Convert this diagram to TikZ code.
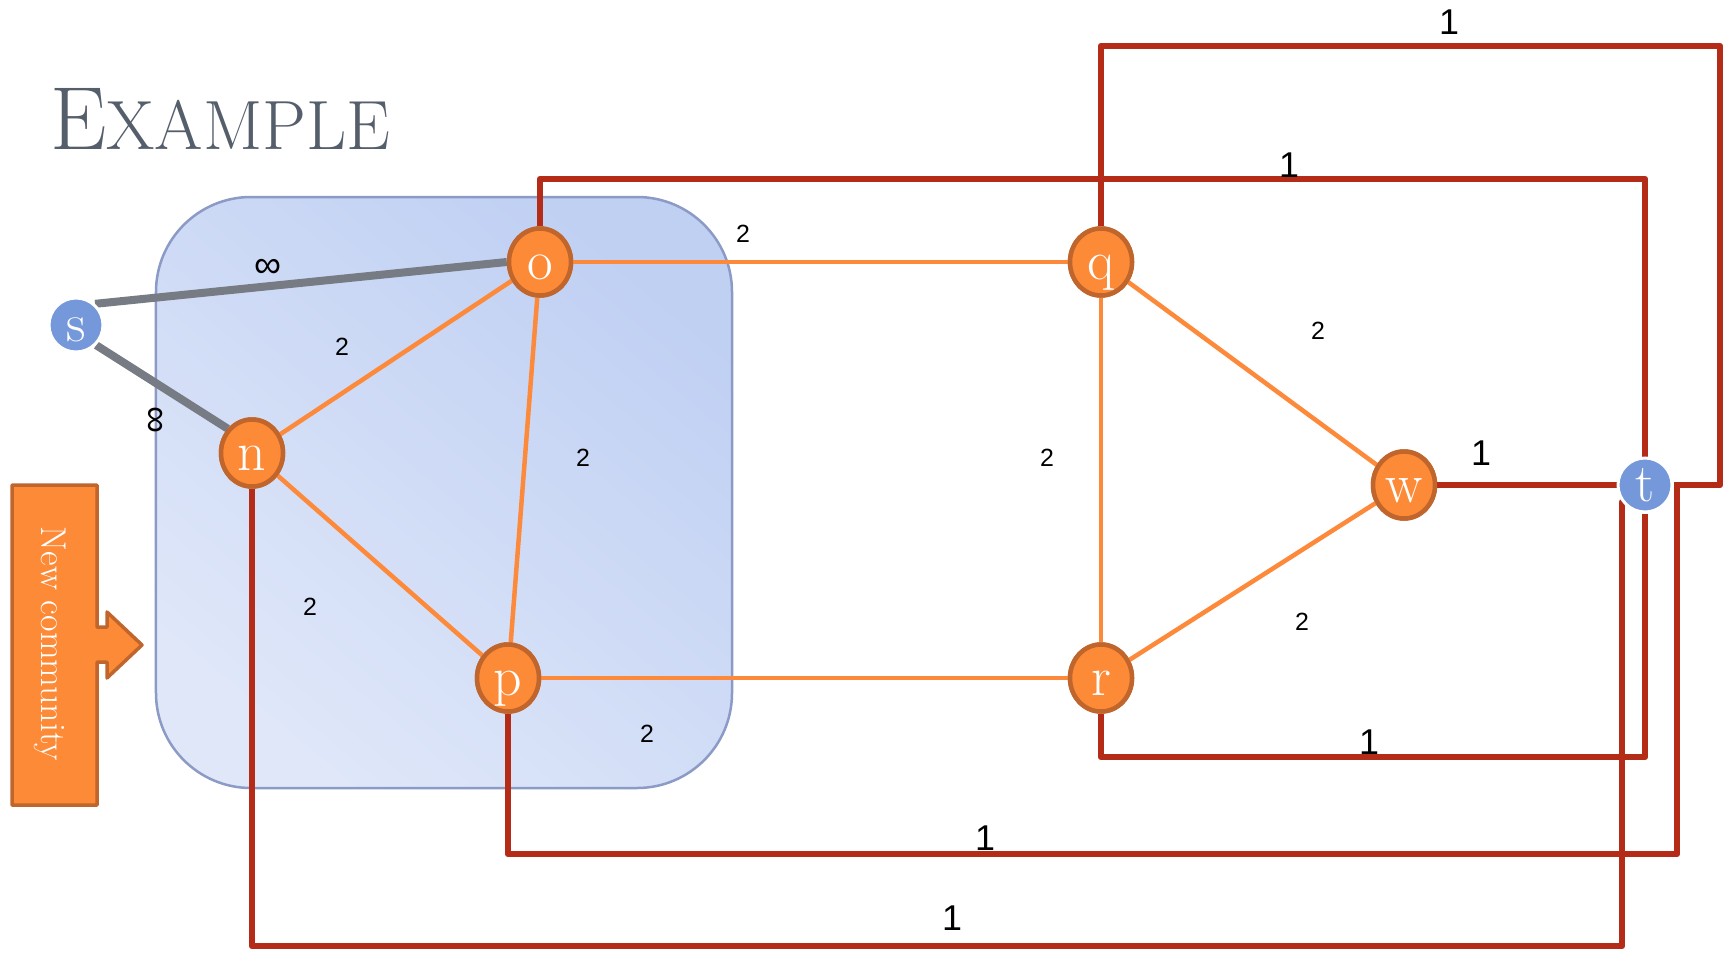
\documentclass[tikz,border=0pt]{standalone}
\usepackage{fontspec}
\usetikzlibrary{shapes.geometric,calc}
\newfontfamily\labfont{Liberation Sans}
\definecolor{nodeorange}{HTML}{FD8A37}
\definecolor{nodeedge}{HTML}{C0652B}
\definecolor{linkorange}{HTML}{FD8A3A}
\definecolor{cutred}{HTML}{B42B18}
\definecolor{infgray}{HTML}{777B83}
\definecolor{termblue}{HTML}{7598DA}
\definecolor{commborder}{HTML}{8C9BC5}
\definecolor{commdark}{HTML}{C0D0F3}
\definecolor{commlight}{HTML}{DFE7F9}
\definecolor{titlegray}{HTML}{555E6B}
\begin{document}
\begin{tikzpicture}[x=1bp,y=-1bp,
  vertex/.style={ellipse, fill=nodeorange, draw=nodeedge, line width=4.5bp,
    minimum width=62bp, minimum height=67bp, inner sep=0pt, text=white,
    font=\fontsize{56}{56}\selectfont, text height=34bp, text depth=0bp},
  terminal/.style={circle, fill=termblue, draw=white, line width=3bp,
    minimum size=54bp, inner sep=0pt, text=white,
    font=\fontsize{54}{54}\selectfont, text height=32bp, text depth=0bp},
  link/.style={linkorange, line width=4.5bp},
  inflink/.style={infgray, line width=8bp},
  cut/.style={cutred, line width=6.5bp, line join=round},
  wlabel/.style={font=\labfont\fontsize{25}{25}\selectfont, inner sep=0pt},
  inflabel/.style={font=\labfont\fontsize{38}{38}\selectfont, inner sep=0pt},
  cutlabel/.style={font=\labfont\fontsize{36}{36}\selectfont, inner sep=0pt},
]
\useasboundingbox (0,0) rectangle (1724,954);

% title
\node[anchor=base west, text=titlegray, inner sep=0pt] (title) at (50,149)
  {\fontsize{90}{90}\selectfont E\fontsize{70}{70}\selectfont XAMPLE};

% community region
\node[draw=commborder, line width=2.5bp, rounded corners=95bp,
  top color=commdark, bottom color=commlight, shading angle=-40,
  minimum width=576bp, minimum height=591bp] (community) at (444,492.5) {};

% "New community" callout
\path[fill=nodeorange, draw=nodeedge, line width=3.5bp, line join=round]
  (12,485) -- (97,485) -- (97,627) -- (107,627) -- (107,612) -- (142,645)
  -- (107,678) -- (107,662) -- (97,662) -- (97,805) -- (12,805) -- cycle;
\node[rotate=-90, text=white, font=\fontsize{36}{36}\selectfont] (callout) at (50,644) {New community};

% vertices
\node[terminal] (s) at (76,325) {s};
\node[terminal] (t) at (1645,485) {t};
\node[vertex] (o) at (540,262) {o};
\node[vertex] (n) at (252,453) {n};
\node[vertex] (p) at (508,678) {p};
\node[vertex] (q) at (1101,262) {q};
\node[vertex] (r) at (1101,678) {r};
\node[vertex] (w) at (1404,485) {w};

% loop corners
\coordinate (qa) at (1720,46);
\coordinate (qb) at (1720,485);
\coordinate (oa) at (1645,179);
\coordinate (ra) at (1645,757);
\coordinate (pa) at (1677,854);
\coordinate (pb) at (1677,485);
\coordinate (na) at (1622,946);

% source edges
\draw[inflink] (s.48) -- (o.west);
\draw[inflink] (s.-45) -- (n.135);

% community edges
\draw[link] (n) -- (o);
\draw[link] (n) -- (p);
\draw[link] (o) -- (p);
\draw[link] (o) -- (q);
\draw[link] (p) -- (r);
\draw[link] (q) -- (r);
\draw[link] (q) -- (w);
\draw[link] (r) -- (w);

% sink edges
\draw[cut] (o.north) |- (oa) -- (t.north);
\draw[cut] (q.north) |- (qa) -- (qb) -- (t.east);
\draw[cut] (w) -- (t);
\draw[cut] (r.south) |- (ra) -- (t.south);
\draw[cut] (p.south) |- (pa) -- (pb) -- (t.east);
\draw[cut] (n.south) |- (na) -- (na |- t.217) -- (t.217);

% vertices again, above the edges
\node[terminal] at (s) {s};
\node[terminal] at (t) {t};
\node[vertex] at (o) {o};
\node[vertex] at (n) {n};
\node[vertex] at (p) {p};
\node[vertex] at (q) {q};
\node[vertex] at (r) {r};
\node[vertex] at (w) {w};

% capacities
\node[inflabel] (l-so) at (268,268) {∞};
\node[inflabel, rotate=90] (l-sn) at (157,420) {∞};
\node[wlabel] (l-no) at (342,347) {2};
\node[wlabel] (l-op) at (583,458) {2};
\node[wlabel] (l-np) at (310,607) {2};
\node[wlabel] (l-oq) at (743,234) {2};
\node[wlabel] (l-pr) at (647,734) {2};
\node[wlabel] (l-qr) at (1047,458) {2};
\node[wlabel] (l-qw) at (1318,331) {2};
\node[wlabel] (l-rw) at (1302,622) {2};
\node[cutlabel] (l-qt) at (1449,22) {1};
\node[cutlabel] (l-ot) at (1289,165) {1};
\node[cutlabel] (l-wt) at (1481,453) {1};
\node[cutlabel] (l-rt) at (1369,742) {1};
\node[cutlabel] (l-pt) at (985,838) {1};
\node[cutlabel] (l-nt) at (952,918) {1};
\end{tikzpicture}
\end{document}
